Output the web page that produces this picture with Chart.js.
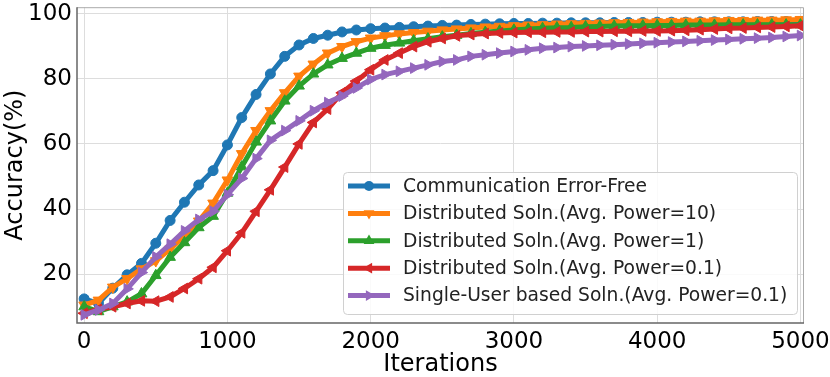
<!DOCTYPE html>
<html>
<head>
<meta charset="utf-8">
<script src="https://cdn.jsdelivr.net/npm/chart.js@4.4.1/dist/chart.umd.min.js"></script>
<style>
    html, body { margin: 0; padding: 0; background: #fff; }
</style>
</head>
<body>
<canvas id="grafica" width="830" height="377"></canvas>
<script>
const iteraciones = [0, 100, 200, 300, 400, 500, 600, 700, 800, 900, 1000, 1100, 1200, 1300, 1400, 1500, 1600, 1700,
    1800, 1900, 2000, 2100, 2200, 2300, 2400, 2500, 2600, 2700, 2800, 2900, 3000, 3100, 3200, 3300, 3400, 3500, 3600,
    3700, 3800, 3900, 4000, 4100, 4200, 4300, 4400, 4500, 4600, 4700, 4800, 4900, 5000];
const ticksX = [0, 1000, 2000, 3000, 4000, 5000];
const ticksY = [20, 40, 60, 80, 100];

const nombres = [
    "Communication Error-Free",
    "Distributed Soln.(Avg. Power=10)",
    "Distributed Soln.(Avg. Power=1)",
    "Distributed Soln.(Avg. Power=0.1)",
    "Single-User based Soln.(Avg. Power=0.1)"
];
const sinError = [12.4, 11.0, 15.7, 19.8, 23.3, 29.5, 36.5, 42.1, 47.4, 51.8, 59.7, 68.1, 75.2, 81.5, 86.9, 90.4, 92.4,
    93.4, 94.4, 95.0, 95.4, 95.6, 95.8, 96.0, 96.2, 96.4, 96.5, 96.7, 96.8, 96.9, 97.0, 97.0, 97.1, 97.1, 97.2, 97.2,
    97.2, 97.3, 97.3, 97.3, 97.4, 97.4, 97.4, 97.5, 97.5, 97.5, 97.5, 97.6, 97.6, 97.6, 97.6];
const potencia10 = [10.5, 12.0, 16.0, 18.6, 21.6, 24.1, 27.7, 31.7, 36.3, 41.8, 48.9, 57.0, 64.1, 70.2, 75.7, 80.8, 84.5,
    87.9, 89.9, 91.4, 92.5, 93.2, 93.8, 94.2, 94.6, 95.0, 95.3, 95.6, 95.9, 96.1, 96.3, 96.5, 96.6, 96.8, 96.9, 97.0,
    97.1, 97.2, 97.3, 97.4, 97.5, 97.6, 97.7, 97.7, 97.8, 97.9, 97.9, 98.0, 98.0, 98.1, 98.2];
const potencia1 = [10.0, 8.5, 10.0, 11.5, 14.0, 19.6, 25.2, 29.7, 34.3, 37.8, 44.9, 53.0, 60.6, 67.1, 73.2, 77.8, 81.5,
    84.3, 86.3, 87.9, 89.4, 90.3, 91.0, 91.7, 92.3, 92.9, 93.4, 93.9, 94.3, 94.7, 95.0, 95.3, 95.5, 95.7, 95.8, 96.0,
    96.1, 96.2, 96.3, 96.3, 96.4, 96.4, 96.5, 96.5, 96.5, 96.6, 96.6, 96.6, 96.6, 96.6, 96.6];
const potencia01 = [8.0, 9.2, 10.0, 11.0, 11.8, 11.7, 13.0, 15.6, 18.6, 22.1, 27.2, 32.7, 39.3, 45.9, 52.9, 60.0, 66.6,
    70.7, 75.7, 79.3, 82.8, 85.8, 87.9, 89.9, 91.4, 92.4, 93.2, 93.6, 93.9, 94.1, 94.2, 94.3, 94.3, 94.4, 94.4, 94.5,
    94.5, 94.6, 94.6, 94.7, 94.7, 94.8, 94.9, 95.1, 95.3, 95.5, 95.6, 95.8, 95.9, 96.1, 96.3];
const usuarioUnico = [7.5, 9.0, 11.0, 15.5, 20.5, 25.3, 29.2, 33.3, 36.8, 39.3, 44.4, 49.4, 55.5, 61.1, 64.1, 67.1, 70.2,
    72.7, 74.7, 77.2, 79.8, 81.3, 82.3, 83.3, 84.3, 85.3, 85.8, 86.9, 87.4, 87.9, 88.4, 88.9, 89.4, 89.6, 89.9, 90.1,
    90.3, 90.5, 90.7, 90.9, 91.1, 91.3, 91.5, 91.7, 91.9, 92.1, 92.3, 92.5, 92.7, 93.0, 93.3];

const series = [sinError, potencia10, potencia1, potencia01, usuarioUnico];
const colores = ["#1f77b4", "#ff7f0e", "#2ca02c", "#d62728", "#9467bd"];
const marcas = ["circle", "triangle", "triangle", "triangle", "triangle"];
const giros = [0, 180, 0, -90, 90];
const radios = [5, 6.2, 6.2, 6.2, 6.2];
const fuente = "'DejaVu Sans', sans-serif";

function dibujarMarca(ctx, estilo, giro, x, y, r) {
    ctx.beginPath();
    if (estilo === "circle") {
        ctx.arc(x, y, r, 0, Math.PI * 2);
    } else {
        const a = giro * Math.PI / 180;
        for (let k = 0; k < 3; k++) {
            const t = a + k * 2 * Math.PI / 3;
            ctx.lineTo(x + Math.sin(t) * r, y - Math.cos(t) * r);
        }
        ctx.closePath();
    }
    ctx.fill();
}

// marco de los ejes y leyenda dentro del area
const marco = {
    id: "marco",
    afterDatasetsDraw(chart) {
        const { ctx, chartArea: a } = chart;
        ctx.save();
        ctx.lineWidth = 1;
        ctx.strokeStyle = "#aaaaaa";
        ctx.beginPath();
        ctx.moveTo(a.left, a.top + 0.5);
        ctx.lineTo(a.right - 0.5, a.top + 0.5);
        ctx.lineTo(a.right - 0.5, a.bottom);
        ctx.stroke();
        ctx.lineWidth = 1.5;
        ctx.strokeStyle = "#666666";
        ctx.beginPath();
        ctx.moveTo(a.left, a.top);
        ctx.lineTo(a.left, a.bottom);
        ctx.lineTo(a.right, a.bottom);
        ctx.stroke();

        const w = 454, h = 142;
        const x0 = a.right - 7 - w, y0 = a.bottom - 9 - h;
        ctx.beginPath();
        ctx.roundRect(x0 + 0.5, y0 + 0.5, w, h, 4);
        ctx.fillStyle = "rgba(255,255,255,0.85)";
        ctx.fill();
        ctx.lineWidth = 1;
        ctx.strokeStyle = "#d0d0d0";
        ctx.stroke();

        ctx.font = "18.7px " + fuente;
        ctx.textBaseline = "middle";
        chart.data.datasets.forEach((ds, i) => {
            const y = y0 + 14 + i * 27.4;
            ctx.strokeStyle = ds.borderColor;
            ctx.lineWidth = 5;
            ctx.beginPath();
            ctx.moveTo(x0 + 5, y);
            ctx.lineTo(x0 + 47, y);
            ctx.stroke();
            ctx.fillStyle = ds.borderColor;
            dibujarMarca(ctx, marcas[i], giros[i], x0 + 26, y, radios[i]);
            ctx.fillStyle = "#222222";
            ctx.fillText(ds.label, x0 + 60, y + 1);
        });
        ctx.restore();
    }
};

const datasets = series.map((valores, i) => ({
    label: nombres[i],
    data: iteraciones.map((it, j) => ({ x: it, y: valores[j] })),
    borderColor: colores[i],
    backgroundColor: colores[i],
    borderWidth: 5,
    pointStyle: marcas[i],
    rotation: giros[i],
    pointRadius: radios[i],
    pointBorderWidth: 1,
    pointBorderColor: colores[i],
    pointBackgroundColor: colores[i],
    tension: 0,
    order: 5 - i
}));

const ctx = document.getElementById("grafica").getContext("2d");
new Chart(ctx, {
    type: "line",
    data: { datasets },
    options: {
        responsive: false,
        animation: false,
        devicePixelRatio: 1,
        layout: { padding: { top: 4, right: 26, left: 0, bottom: 0 } },
        plugins: { legend: { display: false }, tooltip: { enabled: false } },
        scales: {
            x: {
                type: "linear", min: -50, max: 5025,
                afterBuildTicks: (s) => { s.ticks = ticksX.map(v => ({ value: v })); },
                afterFit: (s) => { s.height = 54; s.paddingLeft = 0; s.paddingRight = 0; },
                grid: { color: "#dddddd", lineWidth: 1, drawTicks: false },
                border: { display: false },
                ticks: { autoSkip: false, maxRotation: 0, padding: 5, color: "#000", font: { family: fuente, size: 23 },
                    callback: (v) => String(v) },
                title: { display: true, text: "Iterations", color: "#000", padding: 0,
                    font: { family: fuente, size: 24, lineHeight: 1.0 } }
            },
            y: {
                type: "linear", min: 5, max: 102,
                afterBuildTicks: (s) => { s.ticks = ticksY.map(v => ({ value: v })); },
                afterFit: (s) => { s.width = 77; s.paddingTop = 0; s.paddingBottom = 0; },
                grid: { color: "#dddddd", lineWidth: 1, drawTicks: false },
                border: { display: false },
                ticks: { autoSkip: false, padding: 5, color: "#000", font: { family: fuente, size: 23 },
                    callback: (v) => String(v) },
                title: { display: true, text: "Accuracy(%)", color: "#000", padding: 0,
                    font: { family: fuente, size: 24, lineHeight: 1.3 } }
            }
        }
    },
    plugins: [marco]
});
</script>
</body>
</html>
